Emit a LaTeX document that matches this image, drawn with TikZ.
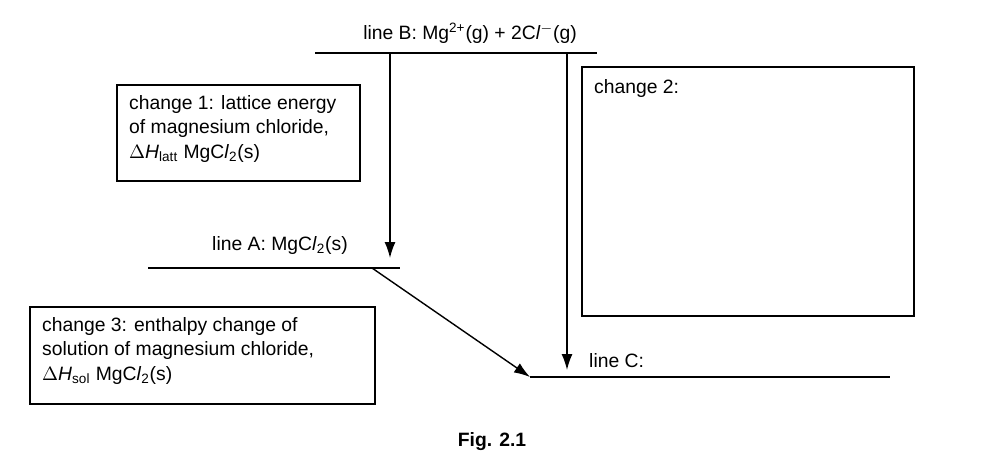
\documentclass[tikz,border=0pt]{standalone}
\usepackage{fontspec}
\setmainfont{Liberation Sans}
\usetikzlibrary{positioning,arrows.meta}
\newcommand{\cll}{C\textit{l}}
\newcommand{\dH}{$\Delta$\textit{H}}
\tikzset{
  level/.style={line width=0.8pt},
  arrow/.style={draw, line width=0.8pt, -{Latex[length=3.2mm,width=2.2mm]}},
  label/.style={font=\fontsize{11}{14}\selectfont}
}
\begin{document}
\begin{tikzpicture}[x=0.02cm, y=-0.02cm, every node/.style={label}]
	\useasboundingbox (0,0) rectangle (983,473);
	% energy levels
	\coordinate (Bl) at (315,53); \coordinate (Br) at (597,53);
	\coordinate (Al) at (148,268); \coordinate (Ar) at (400,268);
	\coordinate (Cl) at (530,377); \coordinate (Cr) at (890,377);
	\draw [level] (Bl) -- (Br);
	\draw [level] (Al) -- (Ar);
	\draw [level] (Cl) -- (Cr);
	\node (lineB) at (470,33) {line B: Mg\textsuperscript{2+}(g) + 2\cll\textsuperscript{$-$}(g)};
	\node (lineA) at (280,246) {line A: Mg\cll\textsubscript{2}(s)};
	\node [anchor=west] (lineC) at (583,361) {line C:};

	% arrows
	\coordinate (b1) at (390,53); \coordinate (a1) at (390,258);
	\coordinate (b2) at (567,53); \coordinate (c2) at (567,370);
	\coordinate (a3) at (372,268); \coordinate (c3) at (530,377);
	\draw [arrow] (b1) -- (a1);
	\draw [arrow] (b2) -- (c2);
	\draw [arrow] (a3) -- (c3);

	% boxes
	\draw [line width=0.8pt] (117,85) rectangle (360,181);
	\node [anchor=north west, align=left] (change1) at (123,89) {change 1: lattice energy\\of magnesium chloride,\\\dH\textsubscript{latt} Mg\cll\textsubscript{2}(s)};
	\draw [line width=0.8pt] (582,67) rectangle (914,316);
	\node [anchor=north west] (change2) at (588,73) {change 2:};
	\draw [line width=0.8pt] (30,307) rectangle (375,404);
	\node [anchor=north west, align=left] (change3) at (36,311) {change 3: enthalpy change of\\solution of magnesium chloride,\\\dH\textsubscript{sol} Mg\cll\textsubscript{2}(s)};

	\node [font=\bfseries\fontsize{11}{13}\selectfont] (fig) at (492,442) {Fig. 2.1};
\end{tikzpicture}
\end{document}
